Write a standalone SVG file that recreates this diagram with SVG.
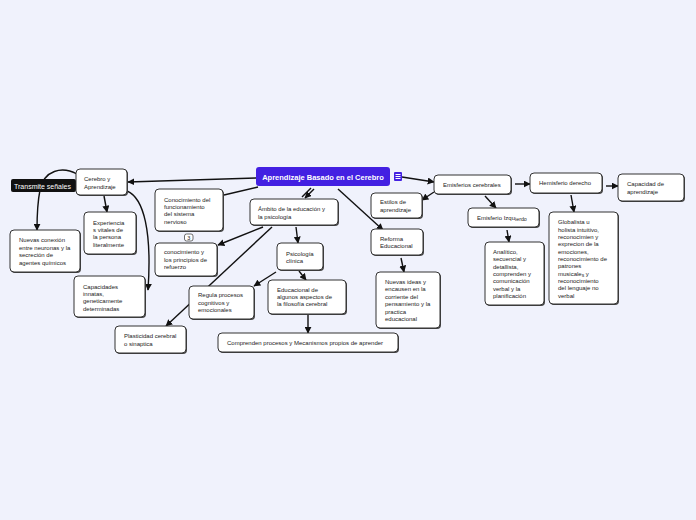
<svg xmlns="http://www.w3.org/2000/svg" width="696" height="520" viewBox="0 0 696 520">
<style>
.bg{fill:#f0f2fc}
.n rect.b{fill:#fff;stroke:#333;stroke-width:1}
.n rect.s{fill:#444}
.t{font-family:"Liberation Sans",Arial,sans-serif;font-size:6px;fill:#222}
.e{stroke:#111;stroke-width:1.4;fill:none}
.ea{marker-end:url(#ah)}
</style>
<defs>
<marker id="ah" viewBox="0 0 10 10" refX="9" refY="5" markerWidth="7" markerHeight="7" markerUnits="userSpaceOnUse" orient="auto"><path d="M0,0 L10,5 L0,10 z" fill="#111"/></marker>
</defs>
<rect class="bg" x="0" y="0" width="696" height="520"/>
<g id="connectors">
<path class="e ea" d="M256,178 L128,182"/>
<path class="e" d="M258,187 L224,195"/>
<path class="e ea" d="M314,189 L305,198"/>
<path class="e" d="M311,188 L302,197"/>
<path class="e ea" d="M338,189 L383,230"/>
<path class="e ea" d="M402,177 L434,182"/>
<path class="e ea" d="M434,192 L422,200"/>
<path class="e ea" d="M485,196 L496,208"/>
<path class="e ea" d="M515,184 L530,184"/>
<path class="e ea" d="M606,186 L618,186"/>
<path class="e ea" d="M571,195 L574,212"/>
<path class="e ea" d="M507,230 L509,242"/>
<path class="e ea" d="M401,258 L404,272"/>
<path class="e ea" d="M296,227 L298,243"/>
<path class="e ea" d="M263,227 L218,245"/>
<path class="e ea" d="M272,227 L166,326"/>
<path class="e ea" d="M276,272 L254,286"/>
<path class="e ea" d="M299,271 L306,280"/>
<path class="e ea" d="M308,315 L308,333"/>
<path class="e ea" d="M104,196 L107,212"/>
<path class="e ea" d="M127,191 C144,198 152,232 148,290"/>
<path class="e ea" d="M77,174 C62,166 44,170 40,190 C37,205 37,218 37,230"/>
</g>
<g id="n-center">
<rect x="256" y="167" width="134" height="19" rx="3" fill="#4320e2"/>
<text x="323" y="180" text-anchor="middle" font-family="Liberation Sans,Arial,sans-serif" font-size="7.5" font-weight="bold" fill="#fff">Aprendizaje Basado en el Cerebro</text>
<rect x="394" y="172" width="8" height="9" rx="1" fill="#4320e2"/>
<path d="M395.5,174.5 h5 M395.5,176.5 h5 M395.5,178.5 h5" stroke="#fff" stroke-width="1"/>
</g>
<g id="n-transmite">
<rect x="11" y="179" width="65" height="13" rx="2" fill="#111"/>
<text x="14" y="188.5" font-family="Liberation Sans,Arial,sans-serif" font-size="7" fill="#fff">Transmite señales</text>
</g>
<g id="n-cerebro" class="n">
<rect class="s" x="77" y="170" width="51" height="26" rx="4"/>
<rect class="b" x="76" y="169" width="51" height="26" rx="4"/>
<text class="t" x="84" y="181">Cerebro y</text>
<text class="t" x="84" y="189">Aprendizaje</text>
</g>
<g id="n-experiencia" class="n">
<rect class="s" x="85" y="213" width="52" height="42" rx="4"/>
<rect class="b" x="84" y="212" width="52" height="42" rx="4"/>
<text class="t" x="93" y="225">Experiencia</text>
<text class="t" x="93" y="232">s vitales de</text>
<text class="t" x="93" y="239">la persona</text>
<text class="t" x="93" y="247">literalmente</text>
</g>
<g id="n-nuevasconexion" class="n">
<rect class="s" x="11" y="231" width="70" height="42" rx="4"/>
<rect class="b" x="10" y="230" width="70" height="42" rx="4"/>
<text class="t" x="19" y="242">Nuevas conexión</text>
<text class="t" x="19" y="250">entre neuronas y la</text>
<text class="t" x="19" y="257">secreción de</text>
<text class="t" x="19" y="265">agentes químicos</text>
</g>
<g id="n-capacidades" class="n">
<rect class="s" x="75" y="277" width="71" height="41" rx="4"/>
<rect class="b" x="74" y="276" width="71" height="41" rx="4"/>
<text class="t" x="83" y="289">Capacidades</text>
<text class="t" x="83" y="296">innatas,</text>
<text class="t" x="83" y="303">geneticamente</text>
<text class="t" x="83" y="311">determinadas</text>
</g>
<g id="n-plasticidad" class="n">
<rect class="s" x="116" y="327" width="71" height="27" rx="4"/>
<rect class="b" x="115" y="326" width="71" height="27" rx="4"/>
<text class="t" x="124" y="338">Plasticidad cerebral</text>
<text class="t" x="124" y="346">o sinaptica</text>
</g>
<g id="n-conocimiento" class="n">
<rect class="s" x="156" y="190" width="68" height="42" rx="4"/>
<rect class="b" x="155" y="189" width="68" height="42" rx="4"/>
<text class="t" x="164" y="202">Conocimiento del</text>
<text class="t" x="164" y="209">funcionamiento</text>
<text class="t" x="164" y="216">del sistema</text>
<text class="t" x="164" y="224">nervioso</text>
<rect x="184.5" y="234" width="8.5" height="7" rx="2" fill="#fff" stroke="#333" stroke-width="0.7"/>
<text x="188.7" y="239.8" text-anchor="middle" font-family="Liberation Sans,Arial,sans-serif" font-size="5.5" fill="#222">3</text>
</g>
<g id="n-principios" class="n">
<rect class="s" x="156" y="244" width="62" height="33" rx="4"/>
<rect class="b" x="155" y="243" width="62" height="33" rx="4"/>
<text class="t" x="164" y="254">conocimiento y</text>
<text class="t" x="164" y="262">los principios de</text>
<text class="t" x="164" y="269">refuerzo</text>
</g>
<g id="n-ambito" class="n">
<rect class="s" x="251" y="200" width="88" height="26" rx="4"/>
<rect class="b" x="250" y="199" width="88" height="26" rx="4"/>
<text class="t" x="258" y="211">Ámbito de la educación y</text>
<text class="t" x="258" y="219">la psicología</text>
</g>
<g id="n-psicologia" class="n">
<rect class="s" x="278" y="244" width="46" height="27" rx="4"/>
<rect class="b" x="277" y="243" width="46" height="27" rx="4"/>
<text class="t" x="286" y="256">Psicología</text>
<text class="t" x="286" y="263">clínica</text>
</g>
<g id="n-regula" class="n">
<rect class="s" x="190" y="287" width="65" height="33" rx="4"/>
<rect class="b" x="189" y="286" width="65" height="33" rx="4"/>
<text class="t" x="198" y="297">Regula procesos</text>
<text class="t" x="198" y="305">cognitivos y</text>
<text class="t" x="198" y="312">emocionales</text>
</g>
<g id="n-educacional" class="n">
<rect class="s" x="269" y="281" width="78" height="34" rx="4"/>
<rect class="b" x="268" y="280" width="78" height="34" rx="4"/>
<text class="t" x="277" y="292">Educacional de</text>
<text class="t" x="277" y="299">algunos aspectos de</text>
<text class="t" x="277" y="306">la filosofía cerebral</text>
</g>
<g id="n-comprenden" class="n">
<rect class="s" x="219" y="334" width="180" height="19" rx="4"/>
<rect class="b" x="218" y="333" width="180" height="19" rx="4"/>
<text class="t" x="227" y="345">Comprenden procesos y Mecanismos propios de aprender</text>
</g>
<g id="n-estilos" class="n">
<rect class="s" x="372" y="194" width="51" height="25" rx="4"/>
<rect class="b" x="371" y="193" width="51" height="25" rx="4"/>
<text class="t" x="380" y="204">Estilos de</text>
<text class="t" x="380" y="212">aprendizaje</text>
</g>
<g id="n-reforma" class="n">
<rect class="s" x="372" y="230" width="52" height="26" rx="4"/>
<rect class="b" x="371" y="229" width="52" height="26" rx="4"/>
<text class="t" x="380" y="241">Reforma</text>
<text class="t" x="380" y="248">Educacional</text>
</g>
<g id="n-nuevasideas" class="n">
<rect class="s" x="377" y="273" width="64" height="56" rx="4"/>
<rect class="b" x="376" y="272" width="64" height="56" rx="4"/>
<text class="t" x="385" y="284">Nuevas ideas y</text>
<text class="t" x="385" y="291">encausen en la</text>
<text class="t" x="385" y="299">corriente del</text>
<text class="t" x="385" y="306">pensamiento y la</text>
<text class="t" x="385" y="314">practica</text>
<text class="t" x="385" y="321">educacional</text>
</g>
<g id="n-emisferios" class="n">
<rect class="s" x="435" y="176" width="77" height="19" rx="4"/>
<rect class="b" x="434" y="175" width="77" height="19" rx="4"/>
<text class="t" x="443" y="187">Emisferios cerebrales</text>
</g>
<g id="n-izquierdo" class="n">
<rect class="s" x="469" y="209" width="71" height="19" rx="4"/>
<rect class="b" x="468" y="208" width="71" height="19" rx="4"/>
<text class="t" x="477" y="220">Emisferio Izqu<tspan font-size="5.3" dy="0.8">ierdo</tspan></text>
</g>
<g id="n-analitico" class="n">
<rect class="s" x="486" y="243" width="59" height="63" rx="4"/>
<rect class="b" x="485" y="242" width="59" height="63" rx="4"/>
<text class="t" x="493" y="254">Analítico,</text>
<text class="t" x="493" y="261">secuencial y</text>
<text class="t" x="493" y="269">detallista,</text>
<text class="t" x="493" y="276">comprenden y</text>
<text class="t" x="493" y="283">comunicación</text>
<text class="t" x="493" y="291">verbal y la</text>
<text class="t" x="493" y="298">planificación</text>
</g>
<g id="n-hemisferio" class="n">
<rect class="s" x="531" y="174" width="72" height="20" rx="4"/>
<rect class="b" x="530" y="173" width="72" height="20" rx="4"/>
<text class="t" x="539" y="185">Hemisferio derecho</text>
</g>
<g id="n-globalista" class="n">
<rect class="s" x="550" y="213" width="69" height="92" rx="4"/>
<rect class="b" x="549" y="212" width="69" height="92" rx="4"/>
<text class="t" x="558" y="224">Globalista u</text>
<text class="t" x="558" y="232">holista intuitivo,</text>
<text class="t" x="558" y="239">reconocimien y</text>
<text class="t" x="558" y="246">exprecion de la</text>
<text class="t" x="558" y="254">emociones,</text>
<text class="t" x="558" y="261">reconocimiento de</text>
<text class="t" x="558" y="268">patrones</text>
<text class="t" x="558" y="276">musicale<tspan font-size="5" dy="0.8">s</tspan><tspan dy="-0.8"> y</tspan></text>
<text class="t" x="558" y="283">reconocimiento</text>
<text class="t" x="558" y="290">del lenguaje no</text>
<text class="t" x="558" y="298">verbal</text>
</g>
<g id="n-capacidad" class="n">
<rect class="s" x="619" y="175" width="66" height="27" rx="4"/>
<rect class="b" x="618" y="174" width="66" height="27" rx="4"/>
<text class="t" x="627" y="186">Capacidad de</text>
<text class="t" x="627" y="194">aprendizaje</text>
</g>
</svg>
